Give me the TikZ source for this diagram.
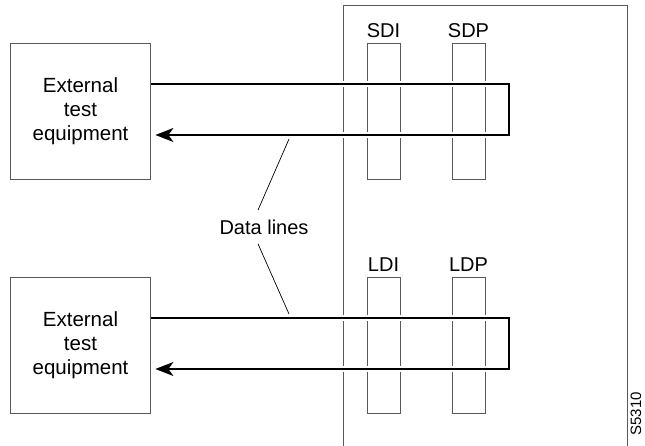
\documentclass[tikz,border=0pt]{standalone}
\usepackage{fontspec}
\setmainfont{Liberation Sans}
\usetikzlibrary{arrows.meta}
\tikzset{
  equip/.style={draw=black!65, line width=0.8pt, minimum width=140pt, minimum height=136pt, align=center, inner sep=0pt, font=\fontsize{20.5}{24}\selectfont},
  port/.style={draw=black!65, line width=0.8pt, minimum width=33pt, minimum height=136pt, inner sep=0pt},
  portlabel/.style={inner sep=0pt, font=\fontsize{20}{24}\selectfont},
  dataline/.style={line width=1.8pt, preaction={draw=white, line width=6pt, arrows=-}},
  tip/.style={-{Stealth[length=18pt,width=14pt,inset=5pt]}},
  leader/.style={line width=0.7pt}
}
\begin{document}
\begin{tikzpicture}[x=1pt,y=-1pt]
\useasboundingbox (0,0) rectangle (645,446);
\draw[black!65, line width=0.8pt] (343,446) -- (343,5) -- (627,5) -- (627,446);
\node[port, label={[portlabel, label distance=5pt]above:SDI}] (sdi) at (383.5,111) {};
\node[port, label={[portlabel, label distance=5pt]above:SDP}] (sdp) at (468.5,111) {};
\node[port, label={[portlabel, label distance=5pt]above:LDI}] (ldi) at (383.5,345.5) {};
\node[port, label={[portlabel, label distance=5pt]above:LDP}] (ldp) at (468.5,345.5) {};
\coordinate (sturn) at (509,111);
\coordinate (lturn) at (509,345.5);
\node[equip] (ext1) at (80.5,111) {External\\test\\equipment};
\node[equip] (ext2) at (80.5,345.5) {External\\test\\equipment};
\draw[dataline, tip] ([yshift=27pt]ext1.east) -- ([yshift=27pt]sturn) -- ([yshift=-24pt]sturn) -- ([shift={(4.5pt,-24pt)}]ext1.east);
\draw[dataline, tip] ([yshift=27.5pt]ext2.east) -- ([yshift=27.5pt]lturn) -- ([yshift=-23.5pt]lturn) -- ([shift={(4.5pt,-23.5pt)}]ext2.east);
\node[equip, fill=none] at (ext1) {};
\node[equip, fill=none] at (ext2) {};
\node[font=\fontsize{20}{24}\selectfont] (data) at (264,227) {Data lines};
\coordinate (hit1) at (289,139);
\coordinate (hit2) at (289,314);
\draw[leader] ([shift={(-6pt,6pt)}]data.north) -- (hit1);
\draw[leader] ([shift={(-6pt,-6pt)}]data.south) -- (hit2);
\node[rotate=90, anchor=south east, inner sep=0pt, font=\fontsize{15}{18}\selectfont] (fig) at (641.5,392) {S5310};
\end{tikzpicture}
\end{document}
